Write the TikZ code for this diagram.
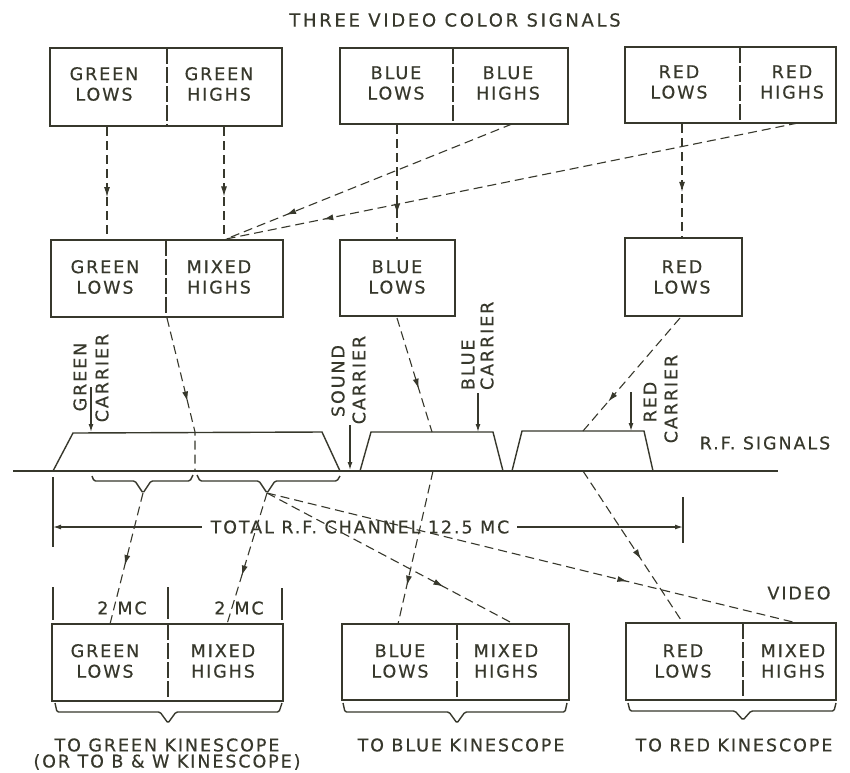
\documentclass[tikz,border=0pt]{standalone}
\usepackage{fontspec}
\setmainfont{DejaVu Sans}[LetterSpace=11,FakeBold=0.4]
\newfontfamily\titlefont{DejaVu Sans}[LetterSpace=15,FakeBold=0.4]
\usetikzlibrary{arrows.meta,decorations.markings}
\definecolor{ink}{RGB}{55,56,44}
\begin{document}
\begin{tikzpicture}[x=1pt,y=-1pt,
  lbl/.style={font=\fontsize{17.5}{20.5}\selectfont, text=ink, align=center, inner sep=0pt, outer sep=0pt},
  vlbl/.style={lbl, rotate=90},
  box/.style={draw=ink, line width=1.6pt, inner sep=0pt, outer sep=0pt},
  divider/.style={draw=ink, line width=1.1pt, dash pattern=on 16pt off 3pt},
  solidline/.style={draw=ink, line width=1.4pt},
  brace/.style={draw=ink, line width=1.4pt, rounded corners=1.5pt},
  flow/.style={draw=ink, line width=1.1pt, dash pattern=on 9pt off 5pt},
  midarrow/.style={postaction={decorate}, decoration={markings, mark=at position #1 with {\arrow[solid,fill=ink,draw=ink]{Latex[length=10pt,width=6pt]}}}},
  carrier/.style={draw=ink, line width=1.3pt, -{Latex[length=8pt,width=5pt]}},
  dim/.style={draw=ink, line width=1.3pt, -{Latex[length=8pt,width=5pt]}},
]
\useasboundingbox[fill=white] (0,0) rectangle (850,772);

% title
\node[lbl, font=\titlefont\fontsize{18}{20.5}\selectfont] (title) at (455,20) {THREE VIDEO COLOR SIGNALS};

% ---------- top row ----------
\node[box, minimum width=232pt, minimum height=78pt] (tg) at (166,87) {};
\draw[divider] (167,48) -- (167,126);
\node[lbl] (tgl) at (104,84) {GREEN\\LOWS};
\node[lbl] (tgh) at (219,84) {GREEN\\HIGHS};

\node[box, minimum width=228pt, minimum height=76pt] (tb) at (454,86) {};
\draw[divider] (453,48) -- (453,124);
\node[lbl] (tbl) at (396,83) {BLUE\\LOWS};
\node[lbl] (tbh) at (508,83) {BLUE\\HIGHS};

\node[box, minimum width=211pt, minimum height=76pt] (tr) at (730.5,85) {};
\draw[divider] (740,47) -- (740,123);
\node[lbl] (trl) at (679,82) {RED\\LOWS};
\node[lbl] (trh) at (792,82) {RED\\HIGHS};

% ---------- middle row ----------
\node[box, minimum width=232pt, minimum height=77pt] (mg) at (167,278.5) {};
\draw[divider] (166,240) -- (166,317);
\node[lbl] (mgl) at (105,277) {GREEN\\LOWS};
\node[lbl] (mgh) at (219,277) {MIXED\\HIGHS};

\node[box, minimum width=115pt, minimum height=76pt] (mb) at (397.5,278) {};
\node[lbl] (mbl) at (397,277) {BLUE\\LOWS};

\node[box, minimum width=117pt, minimum height=78pt] (mr) at (683.5,277) {};
\node[lbl] (mrl) at (682,277) {RED\\LOWS};

% ---------- bottom row ----------
\node[box, minimum width=231pt, minimum height=77pt] (bg) at (167.5,662.5) {};
\draw[divider] (168,624) -- (168,701);
\node[lbl] (bgl) at (105,661) {GREEN\\LOWS};
\node[lbl] (bgh) at (223,661) {MIXED\\HIGHS};

\node[box, minimum width=227pt, minimum height=76pt] (bb) at (455.5,662) {};
\draw[divider] (457,624) -- (457,700);
\node[lbl] (bbl) at (400,661) {BLUE\\LOWS};
\node[lbl] (bbh) at (506,661) {MIXED\\HIGHS};

\node[box, minimum width=210pt, minimum height=77pt] (br) at (731,661.5) {};
\draw[divider] (743,623) -- (743,700);
\node[lbl] (brl) at (683,661) {RED\\LOWS};
\node[lbl] (brh) at (793,661) {MIXED\\HIGHS};

% ---------- spectrum ----------
\draw[solidline] (13,471) -- (778,471);
\draw[solidline] (53,471) -- (73,433) -- (322,432) -- (340,471);
\draw[solidline] (360,471) -- (371,432) -- (493,432) -- (503,471);
\draw[solidline] (512,471) -- (522,431) -- (644,431) -- (653,471);

% carriers
\coordinate (gc1) at (91,387); \coordinate (gc2) at (91,432);
\draw[carrier] (gc1) -- (gc2);
\node[vlbl] (gcl1) at (80,377) {GREEN};
\node[vlbl] (gcl2) at (102,378) {CARRIER};

\coordinate (sc1) at (350,425); \coordinate (sc2) at (350,470);
\draw[carrier] (sc1) -- (sc2);
\node[vlbl] (scl1) at (338,381) {SOUND};
\node[vlbl] (scl2) at (359,380) {CARRIER};

\coordinate (bc1) at (478,393); \coordinate (bc2) at (478,432);
\draw[carrier] (bc1) -- (bc2);
\node[vlbl, anchor=west] (bcl1) at (468,390) {BLUE};
\node[vlbl, anchor=west] (bcl2) at (487,390) {CARRIER};

\coordinate (rc1) at (631,392); \coordinate (rc2) at (631,431);
\draw[carrier] (rc1) -- (rc2);
\node[vlbl] (rcl1) at (650,402) {RED};
\node[vlbl] (rcl2) at (671,399) {CARRIER};

\node[lbl] (rf) at (765,443) {R.F. SIGNALS};

% braces under spectrum
\draw[brace] (92,476) -- (94,481) -- (135,481) -- (143,493) -- (151,481) -- (190,481) -- (193,475);
\draw[brace] (197,475) -- (200,481) -- (259,481) -- (267,493) -- (275,481) -- (337,481) -- (340,476);
\coordinate (tip1) at (143,493);
\coordinate (tip2) at (267,493);

% total channel
\draw[solidline] (53,477) -- (53,547);
\draw[solidline] (683,497) -- (683,543);
\node[lbl] (total) at (360,527) {TOTAL R.F. CHANNEL 12.5 MC};
\coordinate (dl) at (53,527); \coordinate (dr) at (683,527);
\draw[dim] (total.west) ++(-9,0) -- (dl);
\draw[dim] (total.east) ++(8,0) -- (dr);

% ticks above green output
\draw[solidline] (53,587) -- (53,620);
\draw[solidline] (168,587) -- (168,619);
\draw[solidline] (282,588) -- (282,620);
\node[lbl] (mc1) at (122,608) {2\hspace{9pt}MC};
\node[lbl] (mc2) at (239,608) {2\hspace{9pt}MC};
\node[lbl] (video) at (799,593) {VIDEO};

% output braces
\draw[brace] (55,703) -- (57,712) -- (160,712) -- (168,723) -- (176,712) -- (279,712) -- (282,703);
\draw[brace] (343,703) -- (345,712) -- (449,712) -- (457,723) -- (465,712) -- (565,712) -- (567,703);
\draw[brace] (628,703) -- (630,711) -- (735,711) -- (743,720) -- (751,711) -- (834,711) -- (836,703);

\node[lbl] (k1) at (167,745) {TO GREEN KINESCOPE};
\node[lbl] (k1b) at (167,762) {(OR TO B \& W KINESCOPE)};
\node[lbl] (k2) at (461,745) {TO BLUE KINESCOPE};
\node[lbl] (k3) at (734,745) {TO RED KINESCOPE};

% ---------- flows top -> middle ----------
\coordinate (a1) at (107,127); \coordinate (a2) at (107,240);
\draw[flow, midarrow=0.62] (a1) -- (a2);
\coordinate (b1) at (224,127); \coordinate (b2) at (224,239);
\draw[flow, midarrow=0.62] (b1) -- (b2);
\coordinate (c1) at (397,125); \coordinate (c2) at (397,239);
\draw[flow, midarrow=0.78] (c1) -- (c2);
\coordinate (d1) at (682,124); \coordinate (d2) at (682,237);
\draw[flow, midarrow=0.6] (d1) -- (d2);
\coordinate (merge) at (226,239);
\coordinate (e1) at (512,124);
\draw[flow, midarrow=0.79] (e1) -- (merge);
\coordinate (f1) at (798,123);
\draw[flow, midarrow=0.83] (f1) -- (merge);

% ---------- flows middle -> spectrum ----------
\coordinate (g1) at (167,318); \coordinate (g2) at (195,432); \coordinate (g3) at (195,471);
\draw[flow, midarrow=0.55] (g1) -- (g2) -- (g3);
\coordinate (h1) at (397,318); \coordinate (h2) at (432,432);
\draw[flow, midarrow=0.62] (h1) -- (h2);
\coordinate (i1) at (680,318); \coordinate (i2) at (583,431);
\draw[flow, midarrow=0.74] (i1) -- (i2);

% ---------- flows spectrum -> outputs ----------
\coordinate (j2) at (110,624);
\draw[flow, midarrow=0.55] (tip1) -- (j2);
\coordinate (k2c) at (227,624);
\draw[flow, midarrow=0.63] (tip2) -- (k2c);
\coordinate (l2) at (512,623);
\draw[flow, midarrow=0.72] (tip2) -- (l2);
\coordinate (m2) at (797,623);
\draw[flow, midarrow=0.68] (tip2) -- (m2);
\coordinate (n1) at (433,471); \coordinate (n2) at (398,624);
\draw[flow, midarrow=0.75] (n1) -- (n2);
\coordinate (o1) at (583,471); \coordinate (o2) at (683,623);
\draw[flow, midarrow=0.58] (o1) -- (o2);
\end{tikzpicture}
\end{document}
